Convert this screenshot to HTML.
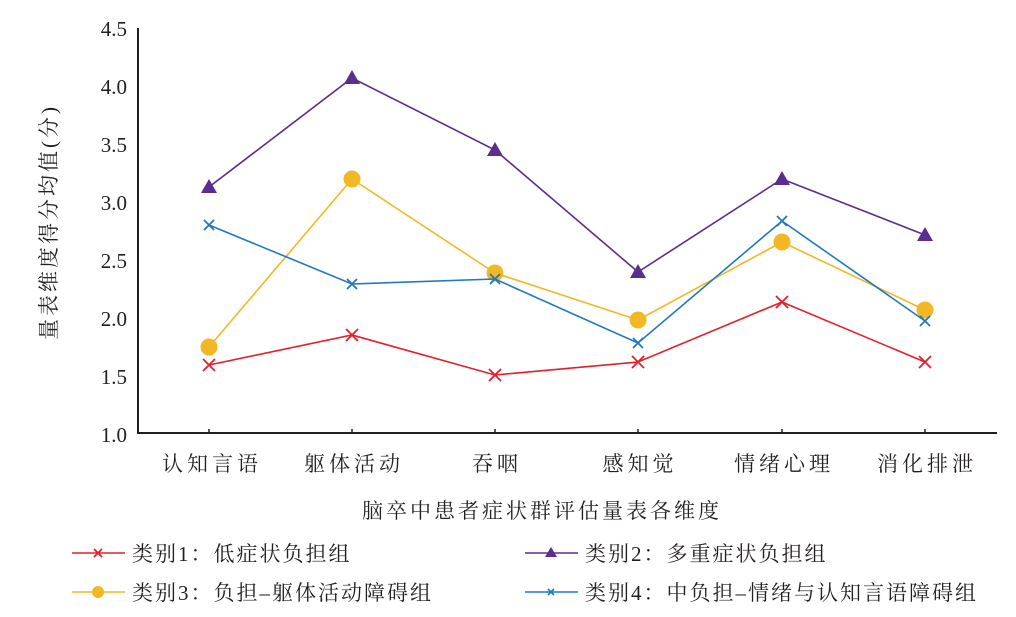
<!DOCTYPE html>
<html><head><meta charset="utf-8"><style>
body{margin:0;background:#fff;}
svg{display:block;font-family:"Liberation Serif","Noto Serif CJK SC",serif;}
</style></head><body>
<svg width="1016" height="617" viewBox="0 0 1016 617" xmlns="http://www.w3.org/2000/svg">
<g font-size="21" fill="#231f20" text-anchor="end">
<text x="127" y="36">4.5</text><text x="127" y="94">4.0</text><text x="127" y="152">3.5</text>
<text x="127" y="210">3.0</text><text x="127" y="268">2.5</text><text x="127" y="326">2.0</text>
<text x="127" y="384">1.5</text><text x="127" y="442">1.0</text>
</g>
<path d="M138 28 V433 H997" fill="none" stroke="#231f20" stroke-width="2"/>
<g stroke="#231f20" stroke-width="1.5">
<line x1="209" y1="433" x2="209" y2="429"/><line x1="352" y1="433" x2="352" y2="429"/>
<line x1="495" y1="433" x2="495" y2="429"/><line x1="638" y1="433" x2="638" y2="429"/>
<line x1="782" y1="433" x2="782" y2="429"/><line x1="925" y1="433" x2="925" y2="429"/>
</g>
<g font-size="21" fill="#231f20" text-anchor="middle" letter-spacing="4">
<text x="212" y="471">认知言语</text><text x="354" y="471">躯体活动</text><text x="497" y="471">吞咽</text>
<text x="640" y="471">感知觉</text><text x="784" y="471">情绪心理</text><text x="927" y="471">消化排泄</text>
</g>
<text x="542" y="518" font-size="21" fill="#231f20" text-anchor="middle" letter-spacing="3">脑卒中患者症状群评估量表各维度</text>
<text font-size="21" fill="#231f20" text-anchor="middle" letter-spacing="3" transform="translate(56,222) rotate(-90)">量表维度得分均值(分)</text>
<polyline points="209,365 352,335 495,375 638,362 782,302 925,362" fill="none" stroke="#e2202a" stroke-width="1.6"/>
<g stroke="#e2202a" stroke-width="1.8">
<path d="M203 359l12 12M215 359l-12 12M346 329l12 12M358 329l-12 12M489 369l12 12M501 369l-12 12M632 356l12 12M644 356l-12 12M776 296l12 12M788 296l-12 12M919 356l12 12M931 356l-12 12"/>
</g>
<polyline points="209,187 352,78 495,150 638,272 782,179 925,235" fill="none" stroke="#5b2d8e" stroke-width="1.6"/>
<g fill="#5b2d8e">
<path d="M209 179l8 14h-16z"/><path d="M352 70l8 14h-16z"/><path d="M495 142l8 14h-16z"/>
<path d="M638 264l8 14h-16z"/><path d="M782 171l8 14h-16z"/><path d="M925 227l8 14h-16z"/>
</g>
<polyline points="209,347 352,179 495,273 638,320 782,242 925,310" fill="none" stroke="#f2b824" stroke-width="1.6"/>
<g fill="#f2b824">
<circle cx="209" cy="347" r="8.5"/><circle cx="352" cy="179" r="8.5"/><circle cx="495" cy="273" r="8.5"/>
<circle cx="638" cy="320" r="8.5"/><circle cx="782" cy="242" r="8.5"/><circle cx="925" cy="310" r="8.5"/>
</g>
<polyline points="209,225 352,284 495,279 638,343 782,221 925,321" fill="none" stroke="#1f78c1" stroke-width="1.6"/>
<g stroke="#1f78c1" stroke-width="1.8">
<path d="M204 220l10 10M214 220l-10 10M347 279l10 10M357 279l-10 10M490 274l10 10M500 274l-10 10M633 338l10 10M643 338l-10 10M777 216l10 10M787 216l-10 10M920 316l10 10M930 316l-10 10"/>
</g>
<line x1="72" y1="553" x2="125" y2="553" stroke="#e2202a" stroke-width="1.6"/>
<path d="M94 549l8 8M102 549l-8 8" stroke="#e2202a" stroke-width="1.8"/>
<line x1="525" y1="553" x2="578" y2="553" stroke="#5b2d8e" stroke-width="1.6"/>
<path d="M551 547l6 10h-12z" fill="#5b2d8e"/>
<line x1="72" y1="592" x2="125" y2="592" stroke="#f2b824" stroke-width="1.6"/>
<circle cx="98" cy="592" r="6" fill="#f2b824"/>
<line x1="525" y1="592" x2="578" y2="592" stroke="#1f78c1" stroke-width="1.6"/>
<path d="M548 589l6 6M554 589l-6 6" stroke="#1f78c1" stroke-width="1.6"/>
<g font-size="21" fill="#231f20" letter-spacing="2">
<text x="132" y="561">类别1：低症状负担组</text>
<text x="585" y="561">类别2：多重症状负担组</text>
<text x="132" y="600">类别3：负担–躯体活动障碍组</text>
<text x="585" y="600">类别4：中负担–情绪与认知言语障碍组</text>
</g>
</svg>
</body></html>
